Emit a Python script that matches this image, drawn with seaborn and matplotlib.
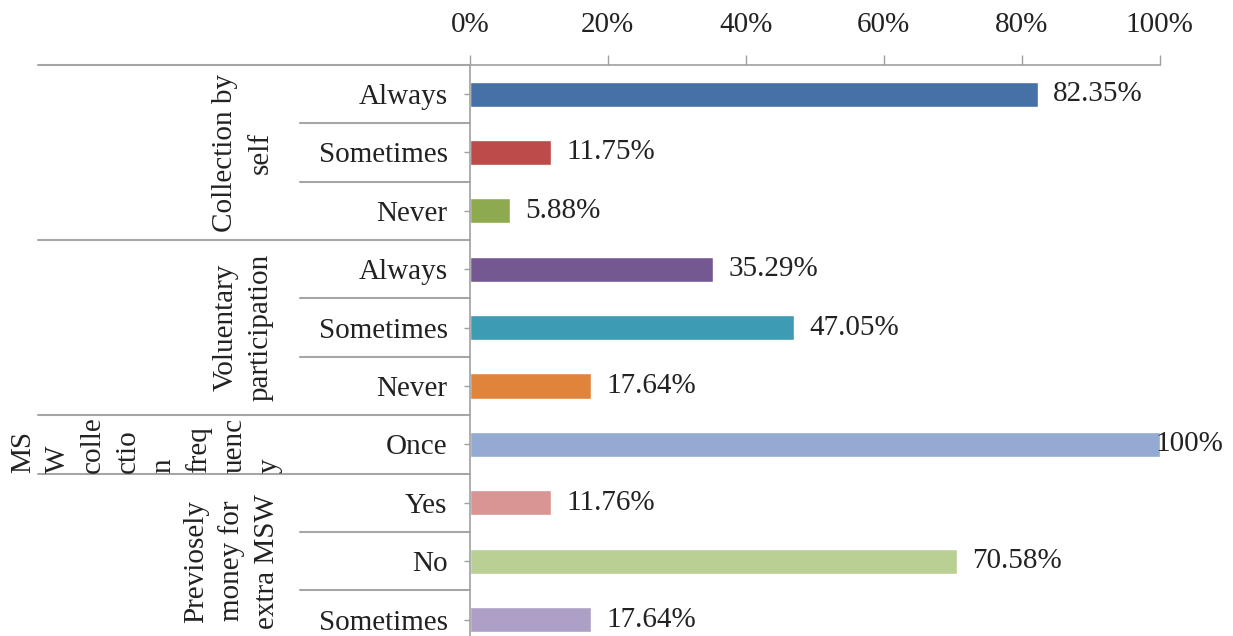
import matplotlib
matplotlib.use("Agg")
import matplotlib.pyplot as plt
import matplotlib.transforms as mtransforms
import seaborn as sns
import pandas as pd

# data
rows = ["Always", "Sometimes", "Never",
        "Always", "Sometimes", "Never",
        "Once",
        "Yes", "No", "Sometimes"]
values = [82.35, 11.75, 5.88, 35.29, 47.05, 17.64, 100, 11.76, 70.58, 17.64]
value_labels = ["82.35%", "11.75%", "5.88%", "35.29%", "47.05%", "17.64%",
                "100%", "11.76%", "70.58%", "17.64%"]
colors = ["#4571A6", "#BC4B49", "#8DAA4E", "#745892", "#3E9BB4", "#E0843C",
          "#94AAD3", "#D99593", "#BACF93", "#AD9FC5"]
groups = ["Collection by\nself", "Voluentary\nparticipation",
          "MS\nW\ncolle\nctio\nn\nfreq\nuenc\ny",
          "Previosely\nmoney for\nextra MSW"]
group_sizes = [3, 3, 1, 3]
xticks = [0, 20, 40, 60, 80, 100]

sns.set_style("white")
plt.rcParams["font.family"] = ["Liberation Serif", "DejaVu Serif"]
FS = 21

df = pd.DataFrame({"row": [f"r{i}" for i in range(len(rows))], "value": values})

fig = plt.figure(figsize=(12.33, 6.36), dpi=100)
ax = fig.add_axes([0.381, -0.02, 0.5596, 0.918])

sns.barplot(data=df, y="row", x="value", hue="row", palette=colors,
            orient="h", legend=False, width=0.43, ax=ax, saturation=1)

for i, cont in enumerate(ax.containers):
    pad = -3 if values[i] >= 100 else 11
    ax.bar_label(cont, labels=[value_labels[i]], padding=pad, fontsize=FS,
                 color="#222222")

ax.set_xlim(0, 100)
ax.set_ylim(len(rows) - 0.5, -0.5)
ax.set_xticks(xticks)
ax.set_xticklabels([f"{t}%" for t in xticks])
ax.set_yticks(range(len(rows)))
ax.set_yticklabels(rows)
ax.set_xlabel("")
ax.set_ylabel("")
ax.xaxis.tick_top()
ax.tick_params(axis="x", length=7, width=1, color="#a0a0a0", pad=12,
               labelsize=FS, labelcolor="#222222")
ax.tick_params(axis="y", length=4, width=1, color="#a0a0a0", pad=12,
               labelsize=FS, labelcolor="#222222", left=True)
for side in ["right", "bottom"]:
    ax.spines[side].set_visible(False)
for side in ["top", "left"]:
    ax.spines[side].set_color("#a0a0a0")
    ax.spines[side].set_linewidth(1.2)

# group separators and rotated group labels
trans = mtransforms.blended_transform_factory(ax.transAxes, ax.transData)
label_x = [-0.329, -0.329, -0.469, -0.345]
start = 0
for g, n, lx in zip(groups, group_sizes, label_x):
    top = start - 0.5
    bottom = start + n - 0.5
    ax.plot([-0.626, 0], [top, top], transform=trans, color="#a6a6a6",
            lw=1.5, clip_on=False)
    for k in range(1, n):
        ax.plot([-0.246, 0], [top + k, top + k], transform=trans,
                color="#a6a6a6", lw=1.5, clip_on=False)
    ax.text(lx, (top + bottom) / 2, g, transform=trans, rotation=90,
            ha="center", va="center", multialignment="center" if n > 1 else "left",
            fontsize=FS, linespacing=1.45, color="#222222")
    start += n

fig.savefig("out.png", dpi=100)
